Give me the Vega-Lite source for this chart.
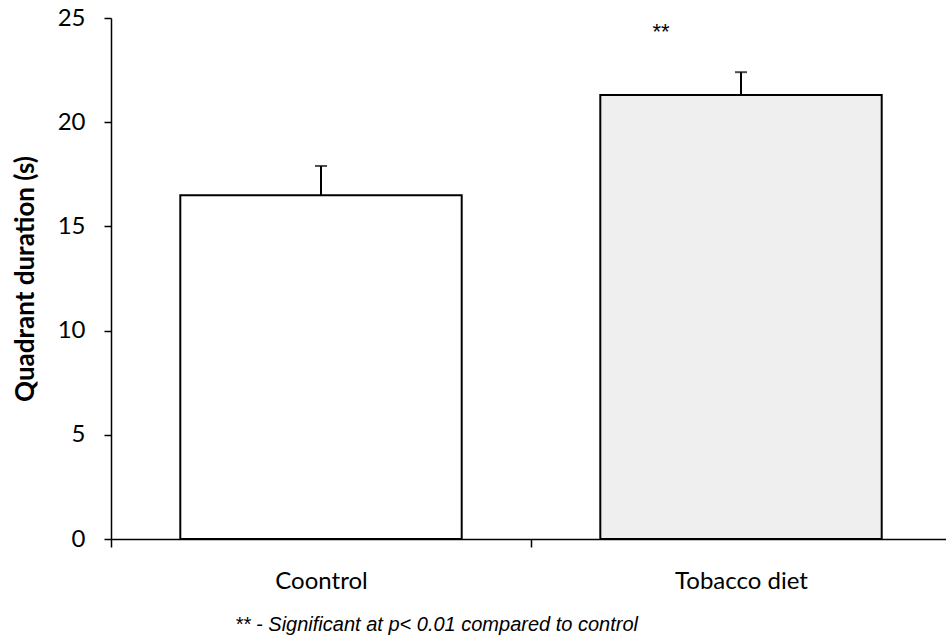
{
  "$schema": "https://vega.github.io/schema/vega-lite/v6.json",
  "width": 840,
  "height": 521,
  "autosize": "none",
  "padding": {"left": 111, "top": 18, "right": 0, "bottom": 102},
  "background": "white",
  "config": {"view": {"stroke": null}, "font": "Lato"},
  "data": {
    "values": [
      {"group": "Coontrol", "mean": 16.5, "upper": 17.9, "sig": ""},
      {"group": "Tobacco diet", "mean": 21.3, "upper": 22.4, "sig": "**"}
    ]
  },
  "encoding": {
    "x": {
      "field": "group",
      "type": "nominal",
      "sort": null,
      "scale": {"paddingInner": 0, "paddingOuter": 0},
      "axis": {
        "labelAngle": 0,
        "labelFont": "Lato",
        "labelFontSize": 24,
        "labelColor": "black",
        "labelPadding": 22,
        "domainColor": "black",
        "domainWidth": 1.5,
        "tickColor": "black",
        "tickWidth": 1.5,
        "tickSize": 8,
        "tickBand": "extent",
        "title": "** - Significant at p< 0.01 compared to control",
        "titleFont": "Liberation Sans",
        "titleFontStyle": "italic",
        "titleFontWeight": "normal",
        "titleFontSize": 20,
        "titleColor": "black",
        "titleX": 325,
        "titleY": 85,
        "titleBaseline": "middle"
      }
    }
  },
  "layer": [
    {
      "mark": {"type": "bar", "width": {"band": 0.67}, "stroke": "black", "strokeWidth": 2},
      "encoding": {
        "y": {
          "field": "mean",
          "type": "quantitative",
          "scale": {"domain": [0, 25], "nice": false},
          "axis": {
            "values": [0, 5, 10, 15, 20, 25],
            "grid": false,
            "domainColor": "black",
            "domainWidth": 1.5,
            "tickColor": "black",
            "tickWidth": 1.5,
            "tickSize": 7,
            "labelFont": "Lato",
            "labelFontSize": 24,
            "labelColor": "black",
            "labelPadding": 19,
            "title": "Quadrant duration (s)",
            "titleFont": "Lato",
            "titleFontSize": 26,
            "titleFontWeight": "bold",
            "titleColor": "black",
            "titlePadding": 19
          }
        },
        "fill": {
          "field": "group",
          "type": "nominal",
          "scale": {"range": ["#ffffff", "#efefef"]},
          "legend": null
        }
      }
    },
    {
      "mark": {"type": "rule", "color": "black", "strokeWidth": 2},
      "encoding": {
        "y": {"field": "mean", "type": "quantitative"},
        "y2": {"field": "upper"}
      }
    },
    {
      "mark": {"type": "tick", "color": "black", "size": 12, "thickness": 2},
      "encoding": {
        "y": {"field": "upper", "type": "quantitative"}
      }
    },
    {
      "mark": {"type": "text", "font": "Liberation Sans", "fontSize": 22, "color": "black", "dx": -80, "dy": -40},
      "encoding": {
        "y": {"field": "upper", "type": "quantitative"},
        "text": {"field": "sig"}
      }
    }
  ]
}
